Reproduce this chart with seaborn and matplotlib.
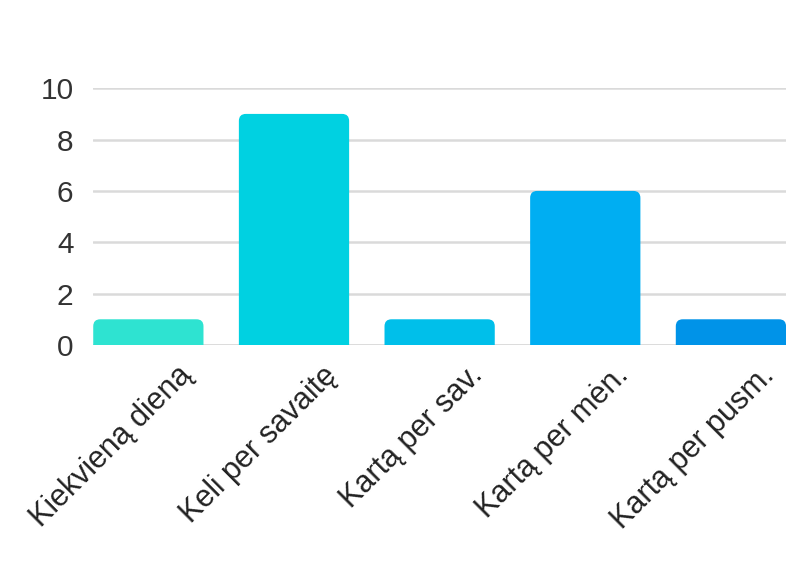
import matplotlib
matplotlib.use("Agg")
import matplotlib.pyplot as plt
import matplotlib.transforms as mtransforms
from matplotlib.patches import FancyBboxPatch
import seaborn as sns
import pandas as pd

# chart data
categories = ["Kiekvieną dieną", "Keli per savaitę", "Kartą per sav.", "Kartą per mėn.", "Kartą per pusm."]
counts = [1, 9, 1, 6, 1]
bar_colors = ["#2ee3d1", "#00d1e1", "#00bfea", "#00aef2", "#0093e8"]
y_ticks = [0, 2, 4, 6, 8, 10]

sns.set_theme(style="white")
plt.rcParams['font.family'] = ['Liberation Sans', 'DejaVu Sans']

df = pd.DataFrame({"cat": categories, "n": counts})

fig = plt.figure(figsize=(7.95, 5.73), dpi=100)
ax = fig.add_axes([0.117, 0.398, 0.872, 0.448])

sns.barplot(data=df, x="cat", y="n", hue="cat", palette=bar_colors,
            width=0.757, legend=False, ax=ax, saturation=1, zorder=3)

ax.set_ylim(0, 10)
ax.set_xlim(-0.38, 4.38)
ax.set_yticks(y_ticks)
ax.yaxis.grid(True, color="#dadada", linewidth=1.8, zorder=0)
ax.set_axisbelow(True)
for s in ax.spines.values():
    s.set_visible(False)
ax.axhline(0, color="#dadada", linewidth=1.8, zorder=1)

# I round the top corners of the bars (bottom goes below 0 and gets clipped)
fig.canvas.draw()
bbox = ax.get_window_extent()
px_x = bbox.width / (ax.get_xlim()[1] - ax.get_xlim()[0])
px_y = bbox.height / (ax.get_ylim()[1] - ax.get_ylim()[0])
radius_px = 7
r_x = radius_px / px_x
aspect = (radius_px / px_y) / r_x
for p in list(ax.patches):
    x0, w, h = p.get_x(), p.get_width(), p.get_height()
    fc = p.get_facecolor()
    p.set_visible(False)
    rp = FancyBboxPatch((x0, -1), w, h + 1,
                        boxstyle=f"round,pad=0,rounding_size={r_x}",
                        mutation_aspect=aspect, facecolor=fc,
                        edgecolor="none", zorder=3)
    ax.add_patch(rp)
    rp.set_clip_path(ax.patch)

ax.set_xlabel("")
ax.set_ylabel("")
ax.tick_params(axis="y", length=0, pad=14, labelsize=21.5, labelcolor="#333333")
ax.tick_params(axis="x", length=0, pad=4, labelsize=22, labelcolor="#222222")

# shift the rotated labels like in the original
offset = mtransforms.ScaledTranslation(0.28, -0.10, fig.dpi_scale_trans)
for lbl in ax.get_xticklabels():
    lbl.set_rotation(45)
    lbl.set_ha("right")
    lbl.set_va("top")
    lbl.set_rotation_mode("anchor")
    lbl.set_transform(lbl.get_transform() + offset)

plt.savefig("out.png", dpi=100)
